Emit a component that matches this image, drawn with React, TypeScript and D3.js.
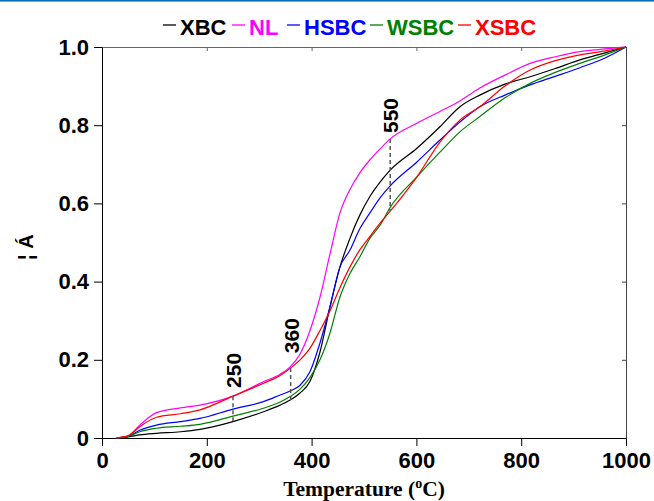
import React from "react";
import * as d3 from "d3";

// temperature grid (°C) shared by all series
const temps = [28, 50, 72, 104, 150, 187, 250, 308, 340, 359, 378, 397, 416, 435, 454, 473, 492, 511, 531, 550, 601, 645, 683, 721, 769, 817, 865, 912, 960, 1000];

const xbc = [0, 0.003, 0.008, 0.012, 0.016, 0.022, 0.042, 0.067, 0.084, 0.097, 0.115, 0.145, 0.22, 0.335, 0.437, 0.51, 0.57, 0.617, 0.655, 0.685, 0.741, 0.796, 0.847, 0.877, 0.905, 0.924, 0.945, 0.967, 0.985, 1.0];
const nl = [0, 0.005, 0.033, 0.065, 0.077, 0.084, 0.107, 0.144, 0.163, 0.182, 0.215, 0.275, 0.36, 0.47, 0.575, 0.635, 0.678, 0.711, 0.74, 0.765, 0.805, 0.835, 0.862, 0.895, 0.928, 0.958, 0.975, 0.988, 0.995, 1.0];
const hsbc = [0, 0.004, 0.02, 0.033, 0.042, 0.05, 0.074, 0.093, 0.11, 0.12, 0.135, 0.17, 0.243, 0.335, 0.437, 0.48, 0.535, 0.575, 0.615, 0.645, 0.706, 0.762, 0.808, 0.847, 0.877, 0.903, 0.925, 0.947, 0.972, 1.0];
const wsbc = [0, 0.004, 0.016, 0.025, 0.03, 0.035, 0.056, 0.076, 0.092, 0.106, 0.125, 0.155, 0.2, 0.268, 0.36, 0.42, 0.463, 0.51, 0.545, 0.59, 0.668, 0.731, 0.783, 0.822, 0.87, 0.907, 0.935, 0.958, 0.98, 1.0];
const xsbc = [0, 0.006, 0.029, 0.053, 0.062, 0.072, 0.107, 0.14, 0.16, 0.178, 0.2, 0.23, 0.275, 0.325, 0.384, 0.437, 0.481, 0.515, 0.55, 0.58, 0.668, 0.757, 0.813, 0.847, 0.9, 0.941, 0.965, 0.98, 0.99, 1.0];

const seriesNames = ["XBC", "NL", "HSBC", "WSBC", "XSBC"];
const seriesColors = ["#000000", "#ff00ff", "#0000ff", "#008000", "#ff0000"];
const seriesValues = [xbc, nl, hsbc, wsbc, xsbc];

// dashed markers: temperature, upper and lower value
const markT = [250, 360, 550];
const markTop = [0.107, 0.179, 0.765];
const markBottom = [0.042, 0.097, 0.58];
const markLabelAt = [0.128, 0.217, 0.78];

const xTicks = [0, 200, 400, 600, 800, 1000];
const yTicks = [0, 0.2, 0.4, 0.6, 0.8, 1.0];

export default function App() {
  const ref = React.useRef<SVGSVGElement>(null);

  React.useEffect(() => {
    const svg = d3.select(ref.current);
    svg.selectAll("*").remove();

    const left = 102, right = 626, top = 47, bottom = 438;
    const x = d3.scaleLinear().domain([0, 1000]).range([left, right]);
    const y = d3.scaleLinear().domain([0, 1]).range([bottom, top]);
    const tickFont = "'Liberation Sans', Arial, sans-serif";

    // blue rule at top of page
    svg.append("rect").attr("x", 0).attr("y", 0).attr("width", 654).attr("height", 1.6).attr("fill", "#0b6fb8");

    // top & right frame with small inner ticks
    svg
      .append("g")
      .attr("transform", `translate(0,${top})`)
      .call(d3.axisTop(x).tickValues(xTicks).tickSize(-4).tickSizeOuter(0).tickFormat(() => ""))
      .call((g) => g.selectAll("path, line").attr("stroke", "#666"));
    svg
      .append("g")
      .attr("transform", `translate(${right},0)`)
      .call(d3.axisRight(y).tickValues(yTicks).tickSize(-4).tickSizeOuter(0).tickFormat(() => ""))
      .call((g) => g.selectAll("path, line").attr("stroke", "#444"));

    // bottom axis
    const xa = svg
      .append("g")
      .attr("transform", `translate(0,${bottom})`)
      .call(
        d3
          .axisBottom(x)
          .tickValues(xTicks)
          .tickSize(8)
          .tickSizeOuter(0)
          .tickPadding(6)
          .tickFormat(d3.format("d"))
      );
    xa.selectAll("text")
      .style("font-family", tickFont)
      .style("font-weight", "bold")
      .style("font-size", "22px")
      .attr("fill", "#000");

    // left axis
    const ya = svg
      .append("g")
      .attr("transform", `translate(${left},0)`)
      .call(
        d3
          .axisLeft(y)
          .tickValues(yTicks)
          .tickSize(8)
          .tickSizeOuter(0)
          .tickPadding(5)
          .tickFormat((d: any) => (d === 0 ? "0" : d3.format(".1f")(d)))
      );
    ya.selectAll("text")
      .style("font-family", tickFont)
      .style("font-weight", "bold")
      .style("font-size", "22px")
      .attr("fill", "#000");

    // curves
    const line = d3
      .line<number>()
      .x((d, i) => x(temps[i]))
      .y((d) => y(d))
      .curve(d3.curveMonotoneX);

    seriesValues.forEach((vals, k) => {
      svg
        .append("path")
        .attr("d", line(vals))
        .attr("fill", "none")
        .attr("stroke", seriesColors[k])
        .attr("stroke-width", 1.2);
    });

    // dashed markers with rotated labels
    markT.forEach((t, i) => {
      svg
        .append("line")
        .attr("x1", x(t))
        .attr("x2", x(t))
        .attr("y1", y(markTop[i]))
        .attr("y2", y(markBottom[i]))
        .attr("stroke", "#555")
        .attr("stroke-width", 1.5)
        .attr("stroke-dasharray", "4,3");
      svg
        .append("text")
        .attr("transform", `translate(${x(t) + 8},${y(markLabelAt[i])}) rotate(-90)`)
        .style("font-family", tickFont)
        .style("font-weight", "bold")
        .style("font-size", "21px")
        .attr("fill", "#000")
        .text(String(t));
    });

    // legend
    const legendX = [163, 232, 287, 370, 458];
    const lg = svg.append("g");
    seriesNames.forEach((name, k) => {
      lg.append("line")
        .attr("x1", legendX[k])
        .attr("x2", legendX[k] + 13)
        .attr("y1", 25)
        .attr("y2", 25)
        .attr("stroke", seriesColors[k])
        .attr("stroke-width", 1.3);
      lg.append("text")
        .attr("x", legendX[k] + 17)
        .attr("y", 35)
        .style("font-family", tickFont)
        .style("font-weight", "bold")
        .style("font-size", "22px")
        .attr("fill", seriesColors[k])
        .text(name);
    });

    // axis titles
    const xt = svg
      .append("text")
      .attr("x", (left + right) / 2)
      .attr("y", 496)
      .attr("text-anchor", "middle")
      .style("font-family", "'Liberation Serif', 'Times New Roman', serif")
      .style("font-weight", "bold")
      .style("font-size", "21.5px")
      .attr("fill", "#000");
    xt.append("tspan").text("Temperature (");
    xt.append("tspan").attr("dy", -8).style("font-size", "14px").text("o");
    xt.append("tspan").attr("dy", 8).text("C)");

    svg
      .append("text")
      .attr("transform", "translate(33,260) rotate(-90)")
      .style("font-family", tickFont)
      .style("font-weight", "bold")
      .style("font-size", "20px")
      .attr("fill", "#000")
      .text("¦ Á");
  }, []);

  return (
    <svg
      ref={ref}
      width={654}
      height={501}
      style={{ position: "absolute", left: 0, top: 0, background: "#fff" }}
    />
  );
}
